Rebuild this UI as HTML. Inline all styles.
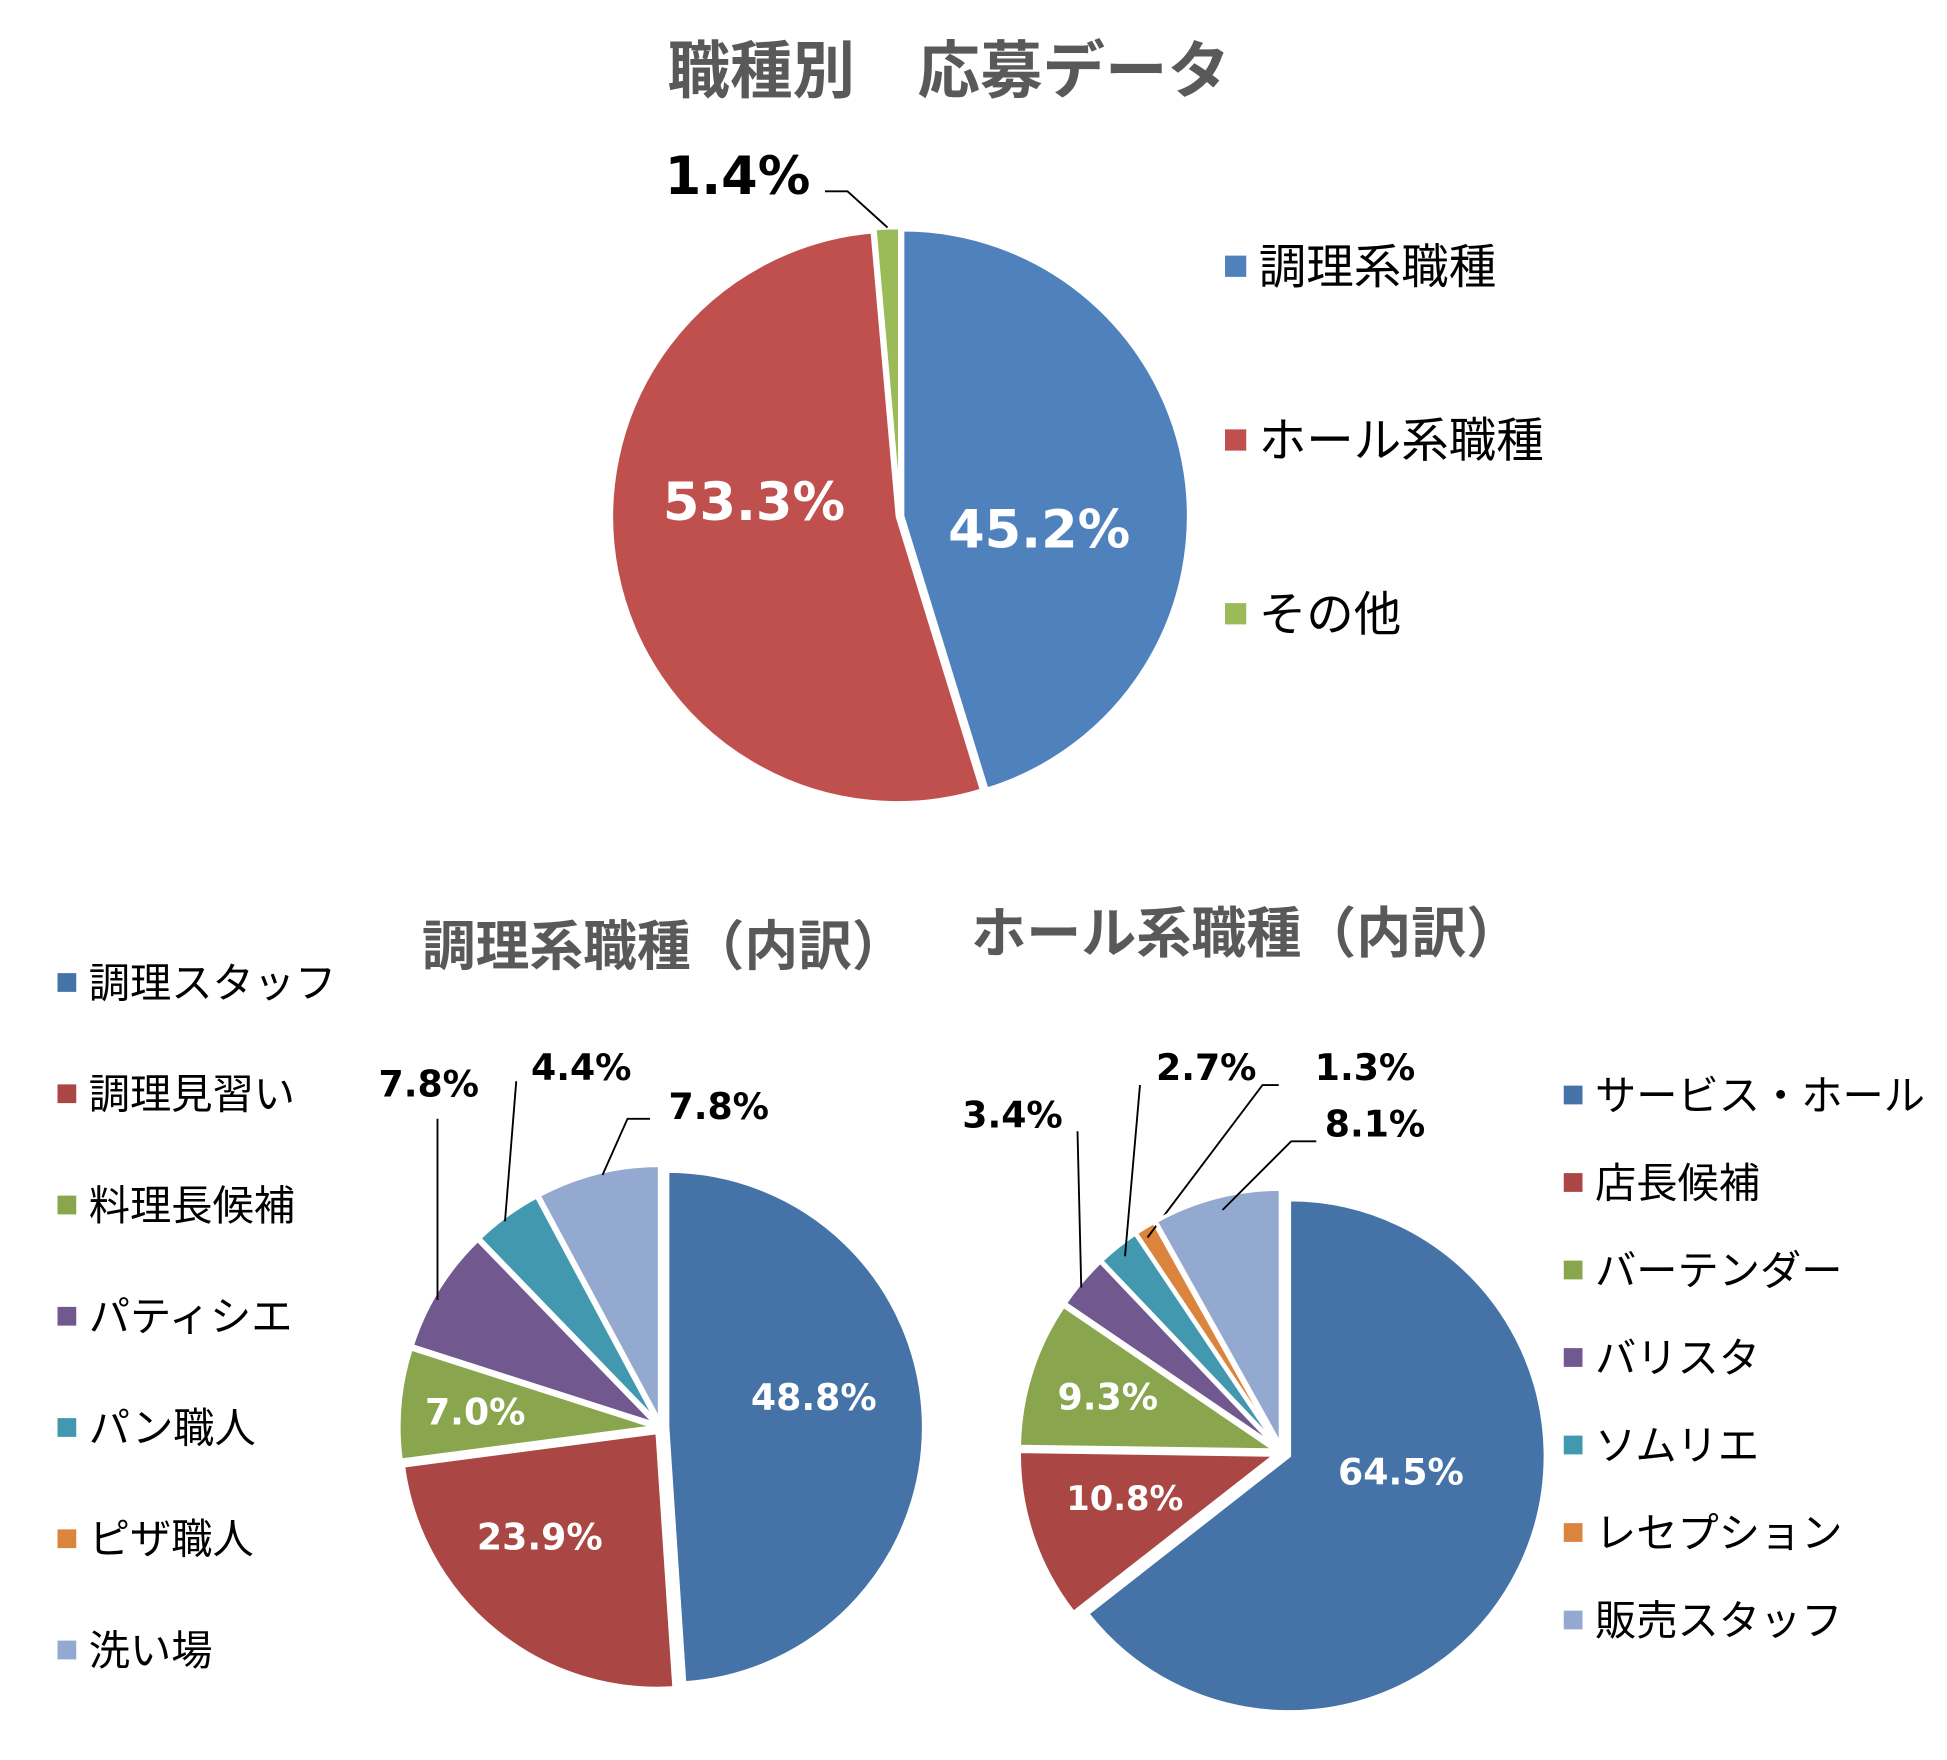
<!DOCTYPE html>
<html><head><meta charset="utf-8"><style>
html,body{margin:0;padding:0;background:#fff;}
svg{display:block;}
text{font-family:"Liberation Sans","Noto Sans CJK JP",sans-serif;}
text.num{font-family:"DejaVu Sans","Liberation Sans",sans-serif;}
</style></head><body>
<svg id="chart" width="1947" height="1760" viewBox="0 0 1557.6 1408" xmlns="http://www.w3.org/2000/svg">
<text x="759" y="74" text-anchor="middle" font-size="50" font-weight="bold" fill="#595959">職種別　応募データ</text>
<text x="531" y="772" text-anchor="middle" font-size="43" font-weight="bold" fill="#595959">調理系職種（内訳）</text>
<text x="997" y="762" text-anchor="middle" font-size="44" font-weight="bold" fill="#595959">ホール系職種（内訳）</text>
<g id="g1"></g><g id="g2"></g><g id="g3"></g>
</svg>
<script>
const mainCats=["調理系職種","ホール系職種","その他"];
const mainVals=[45.2,53.3,1.4];
const cookCats=["調理スタッフ","調理見習い","料理長候補","パティシエ","パン職人","ピザ職人","洗い場"];
const cookVals=[48.8,23.9,7.0,7.8,4.4,0,7.8];
const hallCats=["サービス・ホール","店長候補","バーテンダー","バリスタ","ソムリエ","レセプション","販売スタッフ"];
const hallVals=[64.5,10.8,9.3,3.4,2.7,1.3,8.1];
const NS="http://www.w3.org/2000/svg";
function mk(tag,attrs,parent){const e=document.createElementNS(NS,tag);for(const k in attrs)e.setAttribute(k,attrs[k]);parent.appendChild(e);return e;}
function pie(g,cats,vals,colors,cx,cy,r,expl,inside,outside,legend,name){
  const tot=vals.reduce((a,b)=>a+b,0);let a0=0;
  vals.forEach((v,i)=>{
    const a1=a0+v/tot*2*Math.PI;const mid=(a0+a1)/2;
    const ox=cx+Math.sin(mid)*expl, oy=cy-Math.cos(mid)*expl;
    if(v>0){
      const x0=ox+Math.sin(a0)*r,y0=oy-Math.cos(a0)*r,x1=ox+Math.sin(a1)*r,y1=oy-Math.cos(a1)*r;
      const p=mk('path',{d:`M${ox},${oy}L${x0},${y0}A${r},${r} 0 ${a1-a0>Math.PI?1:0} 1 ${x1},${y1}Z`,fill:colors[i],stroke:'#fff','stroke-width':3,'stroke-linejoin':'round'},g);
      
      
    }
    const lbl=v.toFixed(1)+'%';
    if(inside[i]){
      const f=inside[i];
      const t=mk('text',{class:'num',x:ox+Math.sin(mid)*r*f[0]+f[2],y:oy-Math.cos(mid)*r*f[0]+f[1]*0.36+f[3],'text-anchor':'middle','font-size':f[1],'font-weight':'bold',fill:'#fff'},g);
      t.textContent=lbl;
      
      
    } else if(outside[i]){
      const o=outside[i];
      const t=mk('text',{class:'num',x:o.x,y:o.y,'text-anchor':'middle','font-size':o.fs,'font-weight':'bold',fill:'#000'},g);
      t.textContent=lbl;
      
      
      const l=mk('polyline',{points:o.line,fill:'none',stroke:'#000','stroke-width':1.5},g);
      
      
    }
    a0=a1;
  });
  cats.forEach((c,i)=>{
    const L=legend;
    const s=mk('rect',{x:L.x,y:L.y+i*L.dy-L.sq/2,width:L.sq,height:L.sq,fill:colors[i]},g);
    
    
    const t=mk('text',{x:L.x+L.sq+10,y:L.y+i*L.dy+L.fs*0.36,'font-size':L.fs,fill:'#000'},g);
    t.textContent=c;
    
    
  });
}
const c1=["#4F81BD","#C0504D","#9BBB59"];
const c2=["#4572A7","#AA4643","#89A54E","#71588F","#4198AF","#DB843D","#93A9CF"];
pie(document.getElementById('g1'),mainCats,mainVals,c1,720,413,229,2,
  [[0.58,42,-22,30],[0.6,42,20,-39],null],
  [null,null,{x:590,y:155,fs:42,line:"660,153 678,153 710,182"}],
  {x:980,y:213,dy:139,sq:17,fs:38},'main');
pie(document.getElementById('g2'),cookCats,cookVals,c2,529,1142,205,5,
  [[0.62,29,-10,-20],[0.6,29,-16,-12],[0.68,29,-5,0],null,null,null,null],
  [null,null,null,{x:343,y:877,fs:29,line:"350,895 350,1040"},{x:465,y:864,fs:29,line:"413,865 404,977"},null,{x:575,y:895,fs:29,line:"520,895 502,895 482,940"}],
  {x:46,y:786,dy:89,sq:15,fs:33},'cook');
pie(document.getElementById('g3'),hallCats,hallVals,c2,1026,1162,205,6,
  [[0.55,29,-12,-37],[0.62,27,0,-6],[0.65,29,-7,-3],null,null,null,null],
  [null,null,null,{x:810,y:902,fs:29,line:"862,905 865,1030"},{x:965,y:864,fs:29,line:"912,868 900,1005"},{x:1092,y:864,fs:29,line:"1023,868 1010,868 918,990"},{x:1100,y:909,fs:29,line:"1053,913 1033,913 978,968"}],
  {x:1251,y:876,dy:70,sq:15,fs:33},'hall');
</script>
</body></html>
